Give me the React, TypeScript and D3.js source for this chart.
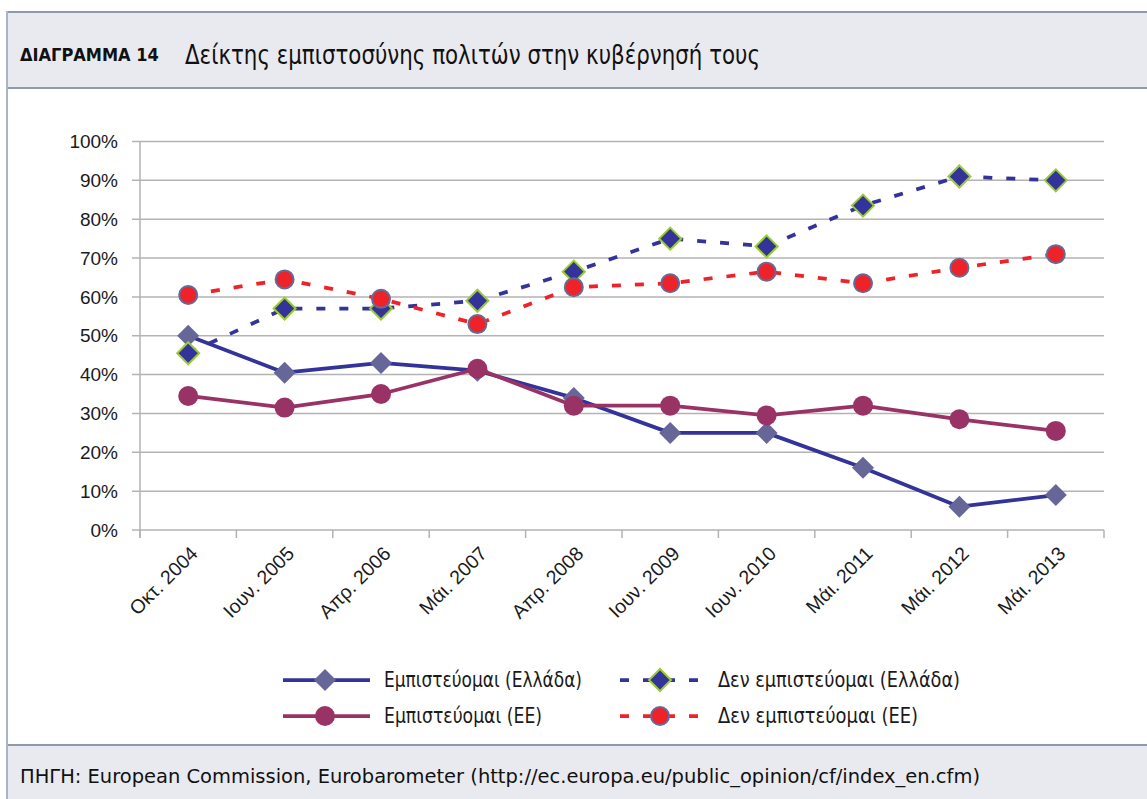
import React from "react";
import * as d3 from "d3";

const categories = ["Οκτ. 2004", "Ιουν. 2005", "Απρ. 2006", "Μάι. 2007", "Απρ. 2008", "Ιουν. 2009", "Ιουν. 2010", "Μάι. 2011", "Μάι. 2012", "Μάι. 2013"];
const greeceTrust = [50, 40.5, 43, 41, 34, 25, 25, 16, 6, 9];
const greeceDistrust = [45.5, 57, 57, 59, 66.5, 75, 73, 83.5, 91, 90];
const euTrust = [34.5, 31.5, 35, 41.5, 32, 32, 29.5, 32, 28.5, 25.5];
const euDistrust = [60.5, 64.5, 59.5, 53, 62.5, 63.5, 66.5, 63.5, 67.5, 71];
const yTicks = [0, 10, 20, 30, 40, 50, 60, 70, 80, 90, 100];
const seriesNames = ["Εμπιστεύομαι (Ελλάδα)", "Δεν εμπιστεύομαι (Ελλάδα)", "Εμπιστεύομαι (ΕΕ)", "Δεν εμπιστεύομαι (ΕΕ)"];
const titleLabel = "ΔΙΑΓΡΑΜΜΑ 14";
const titleText = "Δείκτης εμπιστοσύνης πολιτών στην κυβέρνησή τους";
const sourceText = "ΠΗΓΗ: European Commission, Eurobarometer (http://ec.europa.eu/public_opinion/cf/index_en.cfm)";

const W = 1147, H = 799;
const narrow = "'Liberation Sans Narrow', 'DejaVu Sans Condensed', 'Roboto Condensed', sans-serif";
const tickFont = "'Liberation Sans', Arial, sans-serif";

type Style = { line: string; dashed: boolean; marker: "diamond" | "circle"; fill: string; stroke: string; strokeW: number };
const styles: Style[] = [
  { line: "#333399", dashed: false, marker: "diamond", fill: "#666699", stroke: "#666699", strokeW: 0 },
  { line: "#333399", dashed: true, marker: "diamond", fill: "#333399", stroke: "#99cc33", strokeW: 2 },
  { line: "#993366", dashed: false, marker: "circle", fill: "#993366", stroke: "#993366", strokeW: 0 },
  { line: "#ee2229", dashed: true, marker: "circle", fill: "#ee2229", stroke: "#646b9b", strokeW: 2 },
];
const seriesData = [greeceTrust, greeceDistrust, euTrust, euDistrust];

function Marker({ s, x, y }: { s: Style; x: number; y: number }) {
  if (s.marker === "diamond") {
    const r = 11;
    return <path d={`M${x},${y - r}L${x + r},${y}L${x},${y + r}L${x - r},${y}Z`} fill={s.fill} stroke={s.strokeW ? s.stroke : "none"} strokeWidth={s.strokeW} />;
  }
  return <circle cx={x} cy={y} r={s.strokeW ? 9 : 10} fill={s.fill} stroke={s.strokeW ? s.stroke : "none"} strokeWidth={s.strokeW} />;
}

export default function App() {
  const x = d3.scaleBand<string>().domain(categories).range([140, 1104]).padding(0);
  const cx = (c: string) => (x(c) as number) + x.bandwidth() / 2;
  const y = d3.scaleLinear().domain([0, 100]).range([530, 141.5]);
  const fmt = (v: number) => `${v}%`;
  const line = d3.line<number>().x((_, i) => cx(categories[i])).y((d) => y(d));
  const boundaries = [...categories.map((c) => x(c) as number), 1104];

  const legendItems = [
    { s: styles[0], name: seriesNames[0], lx: 283, ly: 680, tw: 198 },
    { s: styles[1], name: seriesNames[1], lx: 620, ly: 680, tw: 242 },
    { s: styles[2], name: seriesNames[2], lx: 283, ly: 716, tw: 158 },
    { s: styles[3], name: seriesNames[3], lx: 620, ly: 716, tw: 200 },
  ];

  return (
    <svg width={W} height={H} style={{ position: "absolute", left: 0, top: 0, background: "#fff" }}>
      <rect x={7} y={12} width={W - 7} height={76} fill="#e9eaef" />
      <rect x={7} y={745} width={W - 7} height={H - 745} fill="#e9eaef" />
      <line x1={7} x2={W} y1={12} y2={12} stroke="#8e99ad" strokeWidth={2} />
      <line x1={7} x2={W} y1={88} y2={88} stroke="#8e99ad" strokeWidth={2} />
      <line x1={7} x2={W} y1={745} y2={745} stroke="#8e99ad" strokeWidth={2} />
      <line x1={7} x2={7} y1={11} y2={H} stroke="#a9b4c8" strokeWidth={2} />

      <text x={20} y={61} fontFamily={narrow} fontWeight="bold" fontSize={18} fill="#111">{titleLabel}</text>
      <text x={185} y={64} fontFamily={narrow} fontSize={26} fill="#111" textLength={575} lengthAdjust="spacingAndGlyphs">{titleText}</text>
      <text x={20} y={783} fontFamily={narrow} fontSize={20} fill="#111" textLength={960} lengthAdjust="spacingAndGlyphs">{sourceText}</text>

      {yTicks.map((t) => (
        <g key={t}>
          <line x1={132} x2={1104} y1={y(t)} y2={y(t)} stroke="#b3b3b3" strokeWidth={1.5} />
          <text x={118} y={y(t)} dy="0.35em" textAnchor="end" fontFamily={tickFont} fontSize={19} fill="#1a1a1a">{fmt(t)}</text>
        </g>
      ))}
      <line x1={140} x2={140} y1={y(100)} y2={y(0) + 8} stroke="#b3b3b3" strokeWidth={1.5} />
      {boundaries.map((b, i) => (
        <line key={i} x1={b} x2={b} y1={y(0)} y2={y(0) + 8} stroke="#b3b3b3" strokeWidth={1.5} />
      ))}
      {categories.map((c) => (
        <text key={c} transform={`translate(${cx(c) + 6},${y(0) + 20}) rotate(-45)`} textAnchor="end" dy="0.35em" fontFamily={tickFont} fontSize={19.5} fill="#1a1a1a">{c}</text>
      ))}

      {seriesData.map((data, si) => {
        const s = styles[si];
        return (
          <g key={si}>
            <path d={line(data) as string} fill="none" stroke={s.line} strokeWidth={3.75} strokeDasharray={s.dashed ? "9,14" : undefined} strokeLinejoin="round" />
            {data.map((v, i) => (
              <Marker key={i} s={s} x={cx(categories[i])} y={y(v)} />
            ))}
          </g>
        );
      })}

      {legendItems.map((it, i) => (
        <g key={i}>
          <line x1={it.lx} x2={it.lx + (it.s.dashed ? 80 : 87)} y1={it.ly} y2={it.ly} stroke={it.s.line} strokeWidth={3.75} strokeDasharray={it.s.dashed ? "9,14" : undefined} />
          <Marker s={it.s} x={it.lx + (it.s.dashed ? 40 : 42)} y={it.ly} />
          <text x={it.lx + (it.s.dashed ? 98 : 101)} y={it.ly} dy="0.35em" fontFamily={narrow} fontSize={21} fill="#1a1a1a" textLength={it.tw} lengthAdjust="spacingAndGlyphs">{it.name}</text>
        </g>
      ))}
    </svg>
  );
}
